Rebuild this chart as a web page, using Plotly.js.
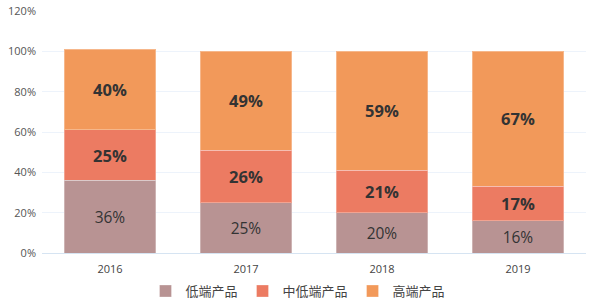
<!DOCTYPE html>
<html><head><meta charset="utf-8">
<script src="https://cdn.plot.ly/plotly-3.0.1.min.js"></script>
<style>body{margin:0;padding:0;background:#fff}#chart{width:596px;height:308px}</style>
</head><body><div id="chart"></div>
<script>
var years = ['2016','2017','2018','2019'];
var seriesNames = ['低端产品','中低端产品','高端产品'];
var lowEnd = [36, 25, 20, 16];
var midLowEnd = [25, 26, 21, 17];
var highEnd = [40, 49, 59, 67];
var colors = ['#b89393','#ec7b62','#f2995a'];
var yTicks = [0,20,40,60,80,100,120];

function mk(vals, i, bold){
  return {
    type:'bar', x: years, y: vals, name: seriesNames[i],
    text: vals.map(function(v){return v+'%';}),
    textposition:'inside', insidetextanchor:'middle',
    textfont:{family:'"Open Sans", "Noto Sans", sans-serif',
              size: bold?16.5:15.5, color:'#333', weight: bold?'bold':'normal'},
    marker:{color: colors[i], line:{color:'rgba(255,255,255,0.3)', width:1}},
    hoverinfo:'none'
  };
}
var data = [mk(lowEnd,0,false), mk(midLowEnd,1,true), mk(highEnd,2,true)];
var layout = {
  width:596, height:308, barmode:'stack', bargap:0.33,
  margin:{l:42, r:10, t:11, b:55, autoexpand:false},
  paper_bgcolor:'#fff', plot_bgcolor:'#fff',
  font:{family:'"Open Sans", "Noto Sans", "Noto Sans CJK SC", sans-serif', color:'#555', size:11},
  xaxis:{showgrid:false, showline:true, linecolor:'#d6e4f2', linewidth:1, ticks:'', tickfont:{size:11,color:'#444'}, ticklabelstandoff:6},
  yaxis:{range:[0,120], tickvals:yTicks, ticktext:yTicks.map(function(v){return v+'%';}),
         gridcolor:'#edf3fb', zeroline:false, tickfont:{size:11,color:'#555'}, ticklabelstandoff:5},
  legend:{orientation:'h', traceorder:'normal', x:0.5, xanchor:'center', xref:'container',
          y:0.055, yanchor:'middle', yref:'container',
          font:{family:'"Noto Sans CJK SC", sans-serif', size:13, color:'#444'}, itemwidth:30},
  showlegend:true
};
Plotly.newPlot('chart', data, layout, {staticPlot:true, displayModeBar:false});
</script></body></html>
